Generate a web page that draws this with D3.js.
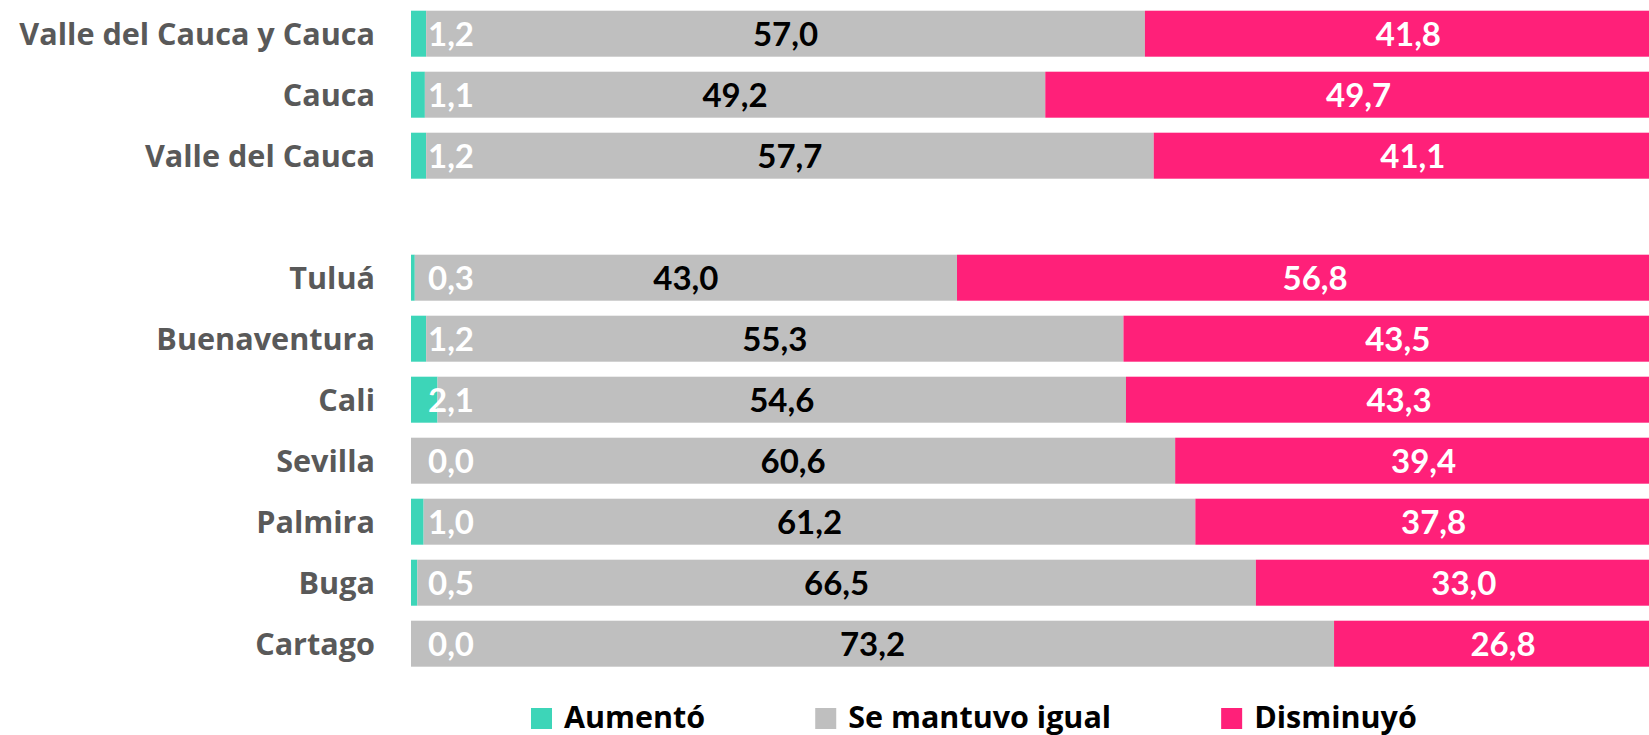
<!DOCTYPE html>
<html>
<head>
<meta charset="utf-8">
<script src="https://cdn.jsdelivr.net/npm/d3@7"></script>
<style>
  html, body { margin: 0; padding: 0; background: #fff; }
  svg { display: block; font-family: Lato, "Open Sans", sans-serif; font-weight: bold; }
  .cat, .leg { font-family: "Open Sans", Lato, sans-serif; font-weight: 700; }
</style>
</head>
<body>
<div class="chart"></div>
<script>
// datos
const categories = ["Valle del Cauca y Cauca", "Cauca", "Valle del Cauca", "Tuluá", "Buenaventura", "Cali", "Sevilla", "Palmira", "Buga", "Cartago"];
const aumento    = [1.2, 1.1, 1.2, 0.3, 1.2, 2.1, 0.0, 1.0, 0.5, 0.0];
const mantuvo    = [57.0, 49.2, 57.7, 43.0, 55.3, 54.6, 60.6, 61.2, 66.5, 73.2];
const disminuyo  = [41.8, 49.7, 41.1, 56.8, 43.5, 43.3, 39.4, 37.8, 33.0, 26.8];
const seriesNames = ["Aumentó", "Se mantuvo igual", "Disminuyó"];
const gapAfter = "Valle del Cauca"; // fila vacia entre regiones y ciudades

const colors = ["#3DD5B8", "#BFBFBF", "#FF2079"];
const labelColors = ["#fff", "#000", "#fff"];

const width = 1649, height = 735;

const rows = categories.map((c, i) => ({ cat: c, a: aumento[i], m: mantuvo[i], d: disminuyo[i] }));
const domain = [];
categories.forEach(c => { domain.push(c); if (c === gapAfter) domain.push("__gap"); });

const svg = d3.select(".chart").append("svg")
    .attr("width", width)
    .attr("height", height);

const x = d3.scaleLinear().domain([0, 100]).range([411, 1672]);
const y = d3.scaleBand().domain(domain).range([3.2, 674.2])
    .paddingInner(15 / 61).paddingOuter(7.5 / 61);

const stack = d3.stack().keys(["a", "m", "d"]);
const series = stack(rows);

const locale = d3.formatLocale({ decimal: ",", thousands: ".", grouping: [3], currency: ["", ""] });
const fmt = locale.format(".1f");

const groups = svg.append("g").selectAll("g")
  .data(series)
  .join("g")
    .attr("fill", (s, i) => colors[i]);

groups.selectAll("rect")
  .data(s => s)
  .join("rect")
    .attr("x", d => x(d[0]))
    .attr("y", d => y(d.data.cat))
    .attr("width", d => x(d[1]) - x(d[0]))
    .attr("height", y.bandwidth());

// etiquetas de valores
series.forEach((s, i) => {
  svg.append("g").selectAll("text")
    .data(s)
    .join("text")
      .attr("x", d => i === 0 ? x(0) + 17 : (x(d[0]) + x(d[1])) / 2)
      .attr("y", d => y(d.data.cat) + y.bandwidth() / 2 + 12)
      .attr("text-anchor", i === 0 ? "start" : "middle")
      .attr("fill", labelColors[i])
      .style("font-size", "33px")
      .text(d => fmt(d[1] - d[0]));
});

// etiquetas de categorias
svg.append("g").selectAll("text")
  .data(rows)
  .join("text")
    .attr("class", "cat")
    .attr("x", 375)
    .attr("y", d => y(d.cat) + y.bandwidth() / 2 + 11.5)
    .attr("text-anchor", "end")
    .attr("fill", "#595959")
    .style("font-size", "30.6px")
    .text(d => d.cat);

// leyenda
const legend = svg.append("g");
let lx = 531;
seriesNames.forEach((name, i) => {
  legend.append("rect")
    .attr("x", lx).attr("y", 708)
    .attr("width", 21).attr("height", 21)
    .attr("fill", colors[i]);
  const t = legend.append("text")
    .attr("class", "leg")
    .attr("x", lx + 33).attr("y", 728)
    .attr("fill", "#000")
    .style("font-size", "30.5px")
    .text(name);
  lx += 33 + t.node().getComputedTextLength() + 110;
});
</script>
</body>
</html>
